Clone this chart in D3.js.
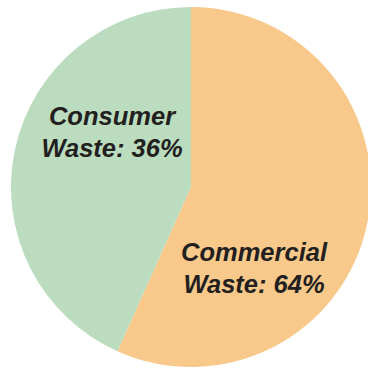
<!DOCTYPE html>
<html>
<head>
<meta charset="utf-8">
<script src="https://cdn.jsdelivr.net/npm/d3@7"></script>
<style>
  html, body { margin: 0; padding: 0; background: #fff; }
  svg { display: block; }
  .lbl { font-family: "Liberation Sans", Arial, sans-serif; font-weight: bold; font-style: italic; fill: #231f20; }
</style>
</head>
<body>
<svg></svg>
<script>
document.addEventListener("DOMContentLoaded", function() {
  // data
  const categories = ["Commercial", "Consumer"];
  const percentLabels = ["64%", "36%"];
  // slice shares as actually drawn in the picture (the drawing is not to scale)
  const drawnShares = [56.7, 43.3];
  const colors = ["#f8c98a", "#bcdcbf"];

  const width = 368;
  const height = 368;
  const cx = 191, cy = 187, radius = 180;

  let svg = d3.select("svg")
              .attr("width", width)
              .attr("height", height);

  let pie = d3.pie()
              .sort(null)
              .value(d => d.share);

  let arc = d3.arc()
              .innerRadius(0)
              .outerRadius(radius);

  let slices = categories.map((c, i) => ({ name: c, share: drawnShares[i], label: percentLabels[i], color: colors[i] }));

  let g = svg.append("g")
             .attr("transform", `translate(${cx},${cy})`);

  g.selectAll("path")
    .data(pie(slices))
    .enter()
    .append("path")
      .attr("d", arc)
      .style("fill", d => d.data.color);

  // label offsets from the pie centre
  const labelOffsets = { Commercial: [63, 74], Consumer: [-79, -62] };

  let labels = g.selectAll("text")
    .data(slices)
    .enter()
    .append("text")
      .classed("lbl", true)
      .attr("text-anchor", "middle")
      .style("font-size", "25.5px")
      .attr("transform", d => `translate(${labelOffsets[d.name][0]},${labelOffsets[d.name][1]})`);

  labels.append("tspan")
    .attr("x", 0)
    .attr("y", 0)
    .text(d => d.name);

  labels.append("tspan")
    .attr("x", 0)
    .attr("y", 32)
    .text(d => `Waste: ${d.label}`);
});
</script>
</body>
</html>
